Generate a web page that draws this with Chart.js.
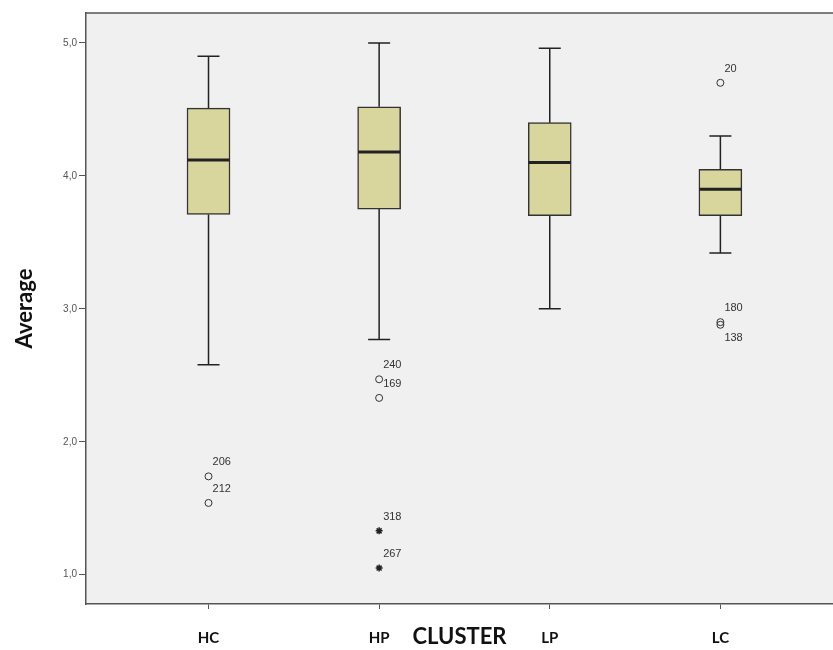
<!DOCTYPE html>
<html>
<head>
<meta charset="utf-8">
<script src="https://cdn.jsdelivr.net/npm/chart.js@4.4.1/dist/chart.umd.min.js"></script>
<style>
  html, body { margin: 0; padding: 0; background: #fff; overflow: hidden; }
  #wrap { width: 833px; height: 650px; position: relative; }
</style>
</head>
<body>
<div id="wrap"><canvas id="grafica"></canvas></div>
<script>
const clusters = ["HC", "HP", "LP", "LC"];
const bigoteBajo = [2.58, 2.77, 3.00, 3.42];
const q1 = [3.71, 3.75, 3.70, 3.70];
const mediana = [4.12, 4.18, 4.10, 3.90];
const q3 = [4.51, 4.52, 4.40, 4.05];
const bigoteAlto = [4.90, 5.00, 4.96, 4.30];

// valores atipicos (circulos)
const atipCluster = [0, 0, 1, 1, 3, 3, 3];
const atipValor = [1.74, 1.54, 2.47, 2.33, 4.70, 2.90, 2.88];
const atipId = ["206", "212", "240", "169", "20", "180", "138"];

// extremos (estrellas)
const extCluster = [1, 1];
const extValor = [1.33, 1.05];
const extId = ["318", "267"];

const yTicks = [1, 2, 3, 4, 5];

const colorCaja = "#D8D69C";
const colorLinea = "#222";
const colorEje = "#555";

const cajas = clusters.map((c, i) => ({ x: i + 1, y: [q1[i], q3[i]] }));
const puntosAtip = atipValor.map((v, i) => ({ x: atipCluster[i] + 1, y: v }));
const puntosExt = extValor.map((v, i) => ({ x: extCluster[i] + 1, y: v }));

const pluginBox = {
  id: "pluginBox",
  beforeDraw(chart) {
    const { ctx, chartArea: a } = chart;
    ctx.save();
    ctx.fillStyle = "#F0F0F0";
    ctx.fillRect(a.left, a.top, a.right - a.left, a.bottom - a.top);
    ctx.strokeStyle = colorEje;
    ctx.lineWidth = 1.5;
    ctx.beginPath();
    ctx.moveTo(a.left, a.top);
    ctx.lineTo(a.right, a.top);
    ctx.stroke();
    ctx.restore();
  },
  afterDatasetsDraw(chart) {
    const { ctx, scales: { x, y } } = chart;
    ctx.save();
    ctx.strokeStyle = colorLinea;
    clusters.forEach((c, i) => {
      const px = x.getPixelForValue(i + 1);
      // bigotes
      ctx.lineWidth = 1.5;
      ctx.beginPath();
      ctx.moveTo(px, y.getPixelForValue(q3[i]));
      ctx.lineTo(px, y.getPixelForValue(bigoteAlto[i]));
      ctx.moveTo(px, y.getPixelForValue(q1[i]));
      ctx.lineTo(px, y.getPixelForValue(bigoteBajo[i]));
      // topes
      [bigoteAlto[i], bigoteBajo[i]].forEach(v => {
        const py = y.getPixelForValue(v);
        ctx.moveTo(px - 11, py);
        ctx.lineTo(px + 11, py);
      });
      ctx.stroke();
      // mediana
      ctx.lineWidth = 3;
      ctx.beginPath();
      const pm = y.getPixelForValue(mediana[i]);
      ctx.moveTo(px - 21, pm);
      ctx.lineTo(px + 21, pm);
      ctx.stroke();
    });

    // etiquetas de los casos
    ctx.font = "11px 'Liberation Sans', Arial, sans-serif";
    ctx.fillStyle = "#333";
    ctx.textBaseline = "middle";
    ctx.textAlign = "left";
    const usadas = [];
    const etiquetar = (meta, ids, grupos) => {
      meta.data.forEach((pt, k) => {
        let ly = pt.y - 14;
        const choca = usadas.some(u => u.g === grupos[k] && Math.abs(u.y - ly) < 12);
        if (choca) ly = pt.y + 13;
        usadas.push({ g: grupos[k], y: ly });
        ctx.fillText(ids[k], pt.x + 4, ly);
      });
    };
    etiquetar(chart.getDatasetMeta(1), atipId, atipCluster);
    etiquetar(chart.getDatasetMeta(2), extId, extCluster);
    ctx.restore();
  }
};

new Chart(document.getElementById("grafica"), {
  type: "bar",
  data: {
    datasets: [
      {
        label: "caja",
        data: cajas,
        backgroundColor: colorCaja,
        borderColor: "#333",
        borderWidth: 1.5,
        borderSkipped: false,
        barThickness: 43,
        grouped: false
      },
      {
        type: "scatter",
        label: "atipicos",
        data: puntosAtip,
        pointStyle: "circle",
        pointRadius: 3.5,
        backgroundColor: "rgba(0,0,0,0)",
        borderColor: "#333",
        borderWidth: 1
      },
      {
        type: "scatter",
        label: "extremos",
        data: puntosExt,
        pointStyle: "star",
        pointRadius: 3.5,
        backgroundColor: "#222",
        borderColor: "#222",
        borderWidth: 1.5
      }
    ]
  },
  options: {
    responsive: true,
    maintainAspectRatio: false,
    animation: false,
    layout: { autoPadding: false, padding: { top: 13, right: 0, left: 0, bottom: 0 } },
    plugins: {
      legend: { display: false },
      tooltip: { enabled: false }
    },
    scales: {
      x: {
        type: "linear",
        offset: false,
        min: 0.282,
        max: 4.66,
        afterBuildTicks: s => { s.ticks = clusters.map((c, i) => ({ value: i + 1 })); },
        afterFit: s => { s.height = 46; s.paddingRight = 0; },
        ticks: {
          padding: 20,
          color: "#111",
          font: { family: "Lato", size: 15, weight: "bold" },
          callback: v => clusters[Math.round(v) - 1] || ""
        },
        grid: { offset: false, drawOnChartArea: false, drawTicks: true, tickLength: 5, color: colorEje, lineWidth: 1 },
        border: { display: true, color: colorEje, width: 1.5 },
        title: {
          display: true,
          text: "CLUSTER",
          color: "#111",
          font: { family: "Lato", size: 22, weight: "bold" },
          padding: { top: 0, bottom: 0 }
        }
      },
      y: {
        min: 0.78,
        max: 5.225,
        afterBuildTicks: s => { s.ticks = yTicks.map(v => ({ value: v })); },
        afterFit: s => { s.width = 86; },
        ticks: {
          padding: 2,
          color: "#555",
          font: { family: "'Liberation Sans', Arial, sans-serif", size: 10 },
          callback: v => v.toFixed(1).replace(".", ",")
        },
        grid: { drawOnChartArea: false, drawTicks: true, tickLength: 7, color: colorEje, lineWidth: 1 },
        border: { display: true, color: colorEje, width: 1.5 },
        title: {
          display: true,
          text: "Average",
          color: "#111",
          font: { family: "Lato", size: 22, weight: "bold" },
          padding: { top: 12, bottom: 0 }
        }
      }
    }
  },
  plugins: [pluginBox]
});
</script>
</body>
</html>
